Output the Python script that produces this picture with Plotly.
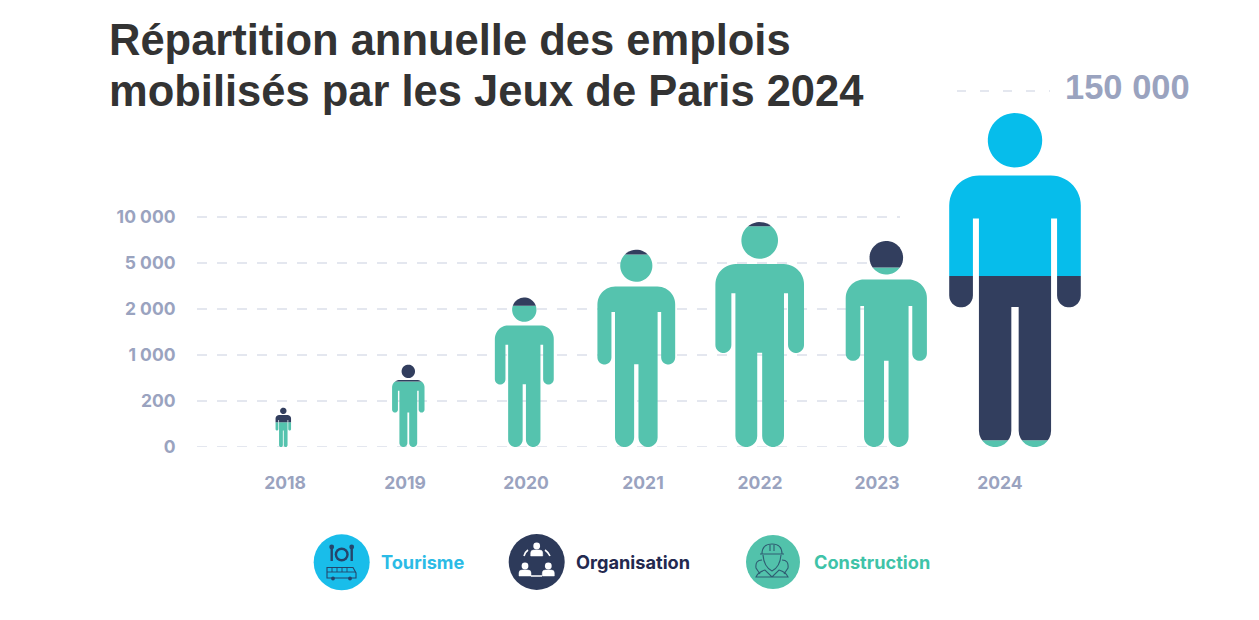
import numpy as np
import plotly.graph_objects as go

# DATA
years = ['2018', '2019', '2020', '2021', '2022', '2023', '2024']
construction = [108, 663, 2596, 6295, 9270, 6445, 3000]
organisation = [63, 169, 154, 155, 180, 955, 73800]
tourisme = [0, 0, 0, 0, 0, 0, 73200]

tick_values = [0, 200, 1000, 2000, 5000, 10000]
tick_labels = ['0', '200', '1 000', '2 000', '5 000', '10 000']
top_label = '150 000'
title_lines = ['Répartition annuelle des emplois', 'mobilisés par les Jeux de Paris 2024']

# the axis is not linear: steps of the scale, 150 000 sits on top of the big man
scale_values = [0, 200, 1000, 2000, 5000, 10000, 150000]
scale_steps = [0, 1, 2, 3, 4, 5, 7.26]
label_step = 7.74

# LAYOUT (page pixels)
W, H = 1259, 620
PLOT_L, PLOT_R, PLOT_T, PLOT_B = 197, 1200, 60, 447
STEP_PX = 46
man_x = [283.3, 408.3, 524.3, 636.3, 759.7, 886.3, 1015]
year_x = [285, 405, 526, 643, 760, 877, 1000]

TEAL = '#55c3ae'
NAVY = '#323e5e'
CYAN = '#06bdeb'
GREY = '#9aa3bf'
GRID = '#dcdfea'


def arc(cx, cy, r, a0, a1, n=14):
    a = np.radians(np.linspace(a0, a1, n))
    return list(zip(cx + r * np.cos(a), cy + r * np.sin(a)))


def man_outline():
    # right half of the body for a man 1 unit tall, then mirrored
    half = [(0, .813)]
    half += arc(.107, .723, .09, 90, 0)
    half += arc(.1615, .4535, .0355, 0, -180)
    half += [(.126, .684), (.108, .684)]
    half += arc(.0595, .0485, .0485, 0, -180)
    half += [(.011, .419), (0, .419)]
    left = [(-x, y) for x, y in reversed(half)]
    return np.array(half + left[1:-1])


def man_head():
    return np.array(arc(0, .9185, .0815, 0, 360, 48)[:-1])


def clip_y(poly, limit, keep_above):
    # Sutherland-Hodgman against one horizontal line
    out = []
    for i in range(len(poly)):
        a, b = poly[i], poly[(i + 1) % len(poly)]
        a_in = a[1] >= limit if keep_above else a[1] <= limit
        b_in = b[1] >= limit if keep_above else b[1] <= limit
        if a_in:
            out.append(a)
        if a_in != b_in:
            t = (limit - a[1]) / (b[1] - a[1])
            out.append(a + t * (b - a))
    return np.array(out) if out else np.empty((0, 2))


fig = go.Figure()

# GRID LINES
ticks_y = np.interp(tick_values, scale_values, scale_steps)
for y in ticks_y:
    fig.add_trace(go.Scatter(x=[PLOT_L, 900], y=[y, y], mode='lines', hoverinfo='skip', showlegend=False,
                             line=dict(color=GRID, width=1.6, dash='10px,10px')))
fig.add_trace(go.Scatter(x=[957, 1050], y=[label_step, label_step], mode='lines', hoverinfo='skip', showlegend=False,
                         line=dict(color=GRID, width=1.6, dash='9px,14px')))

# MEN
sectors = [('Construction', construction, TEAL), ('Organisation', organisation, NAVY), ('Tourisme', tourisme, CYAN)]
parts = [man_outline(), man_head()]
for i, year in enumerate(years):
    total = construction[i] + organisation[i] + tourisme[i]
    height = float(np.interp(total, scale_values, scale_steps))
    lo = 0
    for name, values, color in sectors:
        hi = lo + values[i] / total
        if values[i] > 0:
            xs, ys = [], []
            for part in parts:
                piece = clip_y(clip_y(part, lo, True), hi, False)
                if len(piece):
                    xs += list(man_x[i] + piece[:, 0] * height * STEP_PX) + [None]
                    ys += list(piece[:, 1] * height) + [None]
            fig.add_trace(go.Scatter(x=xs, y=ys, mode='lines', fill='toself', fillcolor=color,
                                     line=dict(width=0, simplify=False),
                                     name=name, text=f'{year} - {name} : {values[i]}', hoverinfo='text',
                                     showlegend=False))
        lo = hi

# TOP LABEL
fig.add_annotation(x=1065, y=label_step + 0.08, text=f'<b>{top_label}</b>', showarrow=False, xanchor='left',
                   xshift=-2, font=dict(family='Liberation Sans', size=34.5, color=GREY))

# TITLE, one annotation per line because the line spacing is tighter than plotly's
for line, y in zip(title_lines, [39.5, 90.5]):
    fig.add_annotation(xref='x2', yref='y2', x=109, y=y, text=f'<b>{line}</b>', showarrow=False, xanchor='left',
                       xshift=-2, font=dict(family='Liberation Sans', size=43.5, color='#333333'))

# LEGEND, drawn on a second pair of axes that covers the page in pixels
shapes = []


def disc(cx, cy, r, color):
    shapes.append(dict(type='circle', xref='x2', yref='y2', x0=cx - r, x1=cx + r, y0=cy - r, y1=cy + r,
                       fillcolor=color, line_width=0, layer='above'))


def path(d, color, width=1.2, fill=None):
    shapes.append(dict(type='path', xref='x2', yref='y2', path=d, line=dict(color=color, width=width),
                       fillcolor=fill if fill else 'rgba(0,0,0,0)', layer='above'))


# tourisme: fork, plate, knife, bus
disc(341.7, 562.3, 28, '#19bdea')
ink = '#25456b'
disc(341.7, 554.5, 7, ink)
disc(341.7, 554.5, 4.6, '#19bdea')
path('M 331.7 546 L 331.7 561', ink, 2.4)
disc(331.7, 547, 2.4, ink)
path('M 351.7 546 L 351.7 561', ink, 2.4)
disc(351.7, 547, 2.4, ink)
path('M 327 567.5 L 353 567.5 L 356 573 L 356 578 L 327 578 Z', ink, 1.1)
path('M 327 572 L 355 572 M 332 567.5 L 332 572 M 337 567.5 L 337 572 M 342 567.5 L 342 572 M 347 567.5 L 347 572',
     ink, 0.9)
disc(333, 578.5, 1.9, ink)
disc(350, 578.5, 1.9, ink)

# organisation: three people on a ring
disc(536.7, 562, 28, '#2d3a5a')
path('M 524 556 Q 525 552 528 550 M 545 550 Q 548 552 550 556 M 531 576 L 542 576', 'white', 1.6)
for px, py in [(536.7, 548), (525, 568), (548.3, 568)]:
    disc(px, py - 2, 3.4, 'white')
    path(f'M {px - 6} {py + 8} L {px - 6} {py + 5} Q {px - 6} {py + 2} {px - 3} {py + 2} '
         f'L {px + 3} {py + 2} Q {px + 6} {py + 2} {px + 6} {py + 5} L {px + 6} {py + 8} Z', 'white', 0.5, 'white')

# construction: worker with a helmet
disc(773, 562, 27, '#52c2ab')
ink = '#2f5d72'
path('M 762 554 Q 762 544 772 544 Q 782 544 782 554 M 760 554 L 784 554 M 770 545 L 770 551 M 774 545 L 774 551',
     ink, 1.1)
path('M 763 555 Q 764 567 772 571 Q 780 567 781 555', ink, 1.1)
path('M 762 560 Q 755 560 756 568 L 760 574 M 782 560 Q 789 560 788 568 L 784 574', ink, 1.1)
path('M 756 577 Q 758 572 765 570 L 772 577 L 779 570 Q 786 572 788 577 Z', ink, 1.1)

legend_items = [('Tourisme', 381, '#2bbbe6'), ('Organisation', 576, '#23294f'), ('Construction', 814, '#3fc3a8')]
for name, x, color in legend_items:
    fig.add_annotation(xref='x2', yref='y2', x=x, y=561.5, text=f'<b>{name}</b>', showarrow=False, xanchor='left',
                       xshift=-2, font=dict(family='Inter', size=18.2, color=color))

fig.update_layout(
    width=W, height=H, autosize=False,
    margin=dict(l=0, r=0, t=0, b=0, pad=0, autoexpand=False),
    paper_bgcolor='white', plot_bgcolor='rgba(0,0,0,0)',
    showlegend=False, shapes=shapes,
    xaxis=dict(domain=[PLOT_L / W, PLOT_R / W], range=[PLOT_L, PLOT_R], tickmode='array', tickvals=year_x,
               ticktext=years, showgrid=False, zeroline=False, showline=False, ticks='outside', ticklen=20,
               tickcolor='rgba(0,0,0,0)', automargin=False,
               tickfont=dict(family='Inter', size=17.5, color=GREY, weight='bold')),
    yaxis=dict(domain=[1 - PLOT_B / H, 1 - PLOT_T / H], range=[0, (PLOT_B - PLOT_T) / STEP_PX], tickmode='array',
               tickvals=list(ticks_y), ticktext=tick_labels, showgrid=False, zeroline=False, showline=False,
               ticks='outside', ticklen=17, tickcolor='rgba(0,0,0,0)', automargin=False,
               tickfont=dict(family='Inter', size=17.5, color=GREY, weight='bold')),
    xaxis2=dict(domain=[0, 1], range=[0, W], visible=False, anchor='y2'),
    yaxis2=dict(domain=[0, 1], range=[H, 0], visible=False, anchor='x2'),
)
# x2/y2 need at least one trace to exist
fig.add_trace(go.Scatter(x=[0], y=[0], xaxis='x2', yaxis='y2', mode='markers', marker_opacity=0, hoverinfo='skip',
                         showlegend=False))

# the browser's default body margin would shift the page by 8 px
fig.write_html("out.html", post_script="document.body.style.margin='0';",
               config=dict(displayModeBar=False))
